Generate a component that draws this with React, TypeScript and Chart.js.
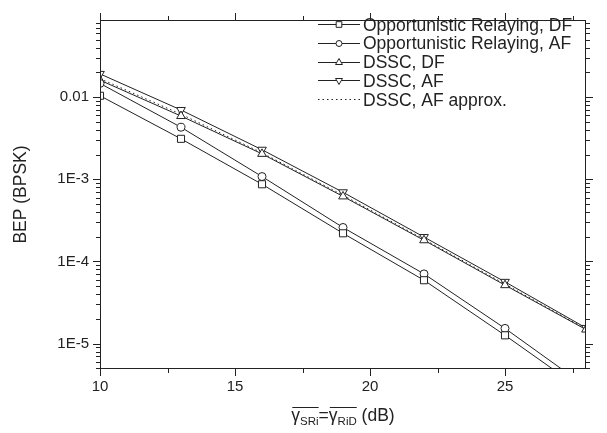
import React, { useEffect, useRef } from 'react';
import { Chart, registerables } from 'chart.js';
import { drawPoint } from 'chart.js/helpers';

Chart.register(...registerables);

// ---- data ----
const snrDb = [10, 13, 16, 19, 22, 25, 28];
const orDF = [0.0104, 0.00311, 0.00087, 2.2e-4, 5.9e-5, 1.26e-5, 2.53e-6];
const orAF = [0.0147, 0.0043, 0.00108, 2.59e-4, 7.05e-5, 1.53e-5, 3.0e-6];
const dsscDF = [0.0161, 0.00589, 0.00204, 6.19e-4, 1.81e-4, 5.14e-5, 1.48e-5];
const dsscAF = [0.0192, 0.00698, 0.00229, 6.95e-4, 1.98e-4, 5.64e-5, 1.55e-5];
const dsscAFApprox = [0.0168, 0.0062, 0.0021, 6.4e-4, 1.86e-4, 5.3e-5, 1.5e-5];
const seriesLabels = [
  'Opportunistic Relaying, DF',
  'Opportunistic Relaying, AF',
  'DSSC, DF',
  'DSSC, AF',
  'DSSC, AF approx.',
];
const xTickValues = [10, 15, 20, 25];
const xMinorTickValues = [12.5, 17.5, 22.5, 27.5];
const yTickValues = [1e-2, 1e-3, 1e-4, 1e-5];
const yTickLabels = ['0.01', '1E-3', '1E-4', '1E-5'];
const yTitle = 'BEP (BPSK)';

const INK = '#222';
const FONT = "'Liberation Sans', Arial, Helvetica, sans-serif";
const X_MIN = 10, X_MAX = 28, Y_MIN = 4.9e-6, Y_MAX = 0.087;

function yMinorValues(): number[] {
  const out: number[] = [];
  for (let e = -7; e <= -1; e++) {
    for (let k = 2; k <= 9; k++) {
      const v = k * Math.pow(10, e);
      if (v >= Y_MIN && v <= Y_MAX) out.push(v);
    }
  }
  return out;
}

const frame = {
  id: 'frame',
  afterDatasetsDraw(chart: any) {
    const ctx = chart.ctx as CanvasRenderingContext2D;
    const { left, right, top, bottom } = chart.chartArea;
    const xs = chart.scales.x, ys = chart.scales.y;
    ctx.save();
    ctx.strokeStyle = INK;
    ctx.lineWidth = 1;
    ctx.setLineDash([]);
    ctx.strokeRect(left + 0.5, top + 0.5, right - left - 1, bottom - top - 1);
    const line = (x1: number, y1: number, x2: number, y2: number) => {
      ctx.beginPath(); ctx.moveTo(x1, y1); ctx.lineTo(x2, y2); ctx.stroke();
    };
    const xt = (v: number, len: number) => {
      const px = Math.min(Math.round(xs.getPixelForValue(v)), right - 1) + 0.5;
      line(px, bottom, px, bottom + len);
      line(px, top, px, top - len);
    };
    const yt = (v: number, len: number) => {
      const py = Math.round(ys.getPixelForValue(v)) + 0.5;
      line(left, py, left - len, py);
      line(right, py, right + len, py);
    };
    xTickValues.forEach(v => xt(v, 7));
    xMinorTickValues.forEach(v => xt(v, 4));
    yTickValues.forEach(v => yt(v, 7));
    yMinorValues().forEach(v => yt(v, 4));

    // legend
    const rowY0 = 24, rowH = 18.75, lx0 = 318, lx1 = 360, tx = 363;
    ctx.font = `17.5px ${FONT}`;
    ctx.textBaseline = 'alphabetic';
    ctx.textAlign = 'left';
    chart.data.datasets.forEach((ds: any, i: number) => {
      const y = rowY0 + i * rowH;
      ctx.strokeStyle = INK;
      ctx.lineWidth = 1;
      ctx.setLineDash(ds.borderDash || []);
      line(lx0, Math.round(y) + 0.5, lx1, Math.round(y) + 0.5);
      ctx.setLineDash([]);
      if (ds.pointRadius > 0) {
        ctx.fillStyle = '#fff';
        ctx.strokeStyle = INK;
        drawPoint(ctx, {
          pointStyle: ds.pointStyle,
          rotation: ds.pointRotation || 0,
          radius: ds.pointStyle === 'circle' ? 3 : 4,
          borderWidth: 1,
        } as any, (lx0 + lx1) / 2, Math.round(y) + 0.5);
      }
      ctx.fillStyle = INK;
      ctx.fillText(ds.label, tx, y + 6.5);
    });

    // x axis title: γSRi = γRiD (dB), overlines and subscripts
    const main = `17.5px ${FONT}`, sub = `11.5px ${FONT}`;
    const base = 421, subBase = base + 4;
    const parts: { t: string; f: string; b: number; ol?: number }[] = [
      { t: 'γ', f: main, b: base, ol: 1 },
      { t: 'SRi', f: sub, b: subBase, ol: 1 },
      { t: '=', f: main, b: base },
      { t: 'γ', f: main, b: base, ol: 2 },
      { t: 'RiD', f: sub, b: subBase, ol: 2 },
      { t: ' (dB)', f: main, b: base },
    ];
    let total = 0;
    const widths = parts.map(p => { ctx.font = p.f; const w = ctx.measureText(p.t).width; total += w; return w; });
    let x = (left + right) / 2 - total / 2;
    const olStart: Record<number, number> = {}, olEnd: Record<number, number> = {};
    ctx.fillStyle = INK;
    parts.forEach((p, i) => {
      ctx.font = p.f;
      ctx.fillText(p.t, x, p.b);
      if (p.ol) {
        if (olStart[p.ol] === undefined) olStart[p.ol] = x;
        olEnd[p.ol] = x + widths[i];
      }
      x += widths[i];
    });
    ctx.strokeStyle = INK;
    ctx.lineWidth = 1;
    [1, 2].forEach(k => line(olStart[k] + 1, base - 13.5, olEnd[k], base - 13.5));
    ctx.restore();
  },
};

export default function App() {
  const ref = useRef<HTMLCanvasElement | null>(null);
  useEffect(() => {
    if (!ref.current) return;
    const mk = (arr: number[]) => snrDb.map((x, i) => ({ x, y: arr[i] }));
    const base = {
      borderColor: INK,
      borderWidth: 1,
      pointBackgroundColor: '#fff',
      pointBorderColor: INK,
      pointBorderWidth: 1,
      pointRadius: 4,
      clip: 0,
      tension: 0,
      fill: false,
    };
    const chart = new Chart(ref.current, {
      type: 'line',
      data: {
        datasets: [
          { ...base, label: seriesLabels[0], data: mk(orDF), pointStyle: 'rect', pointRadius: 5 },
          { ...base, label: seriesLabels[1], data: mk(orAF), pointStyle: 'circle', pointRadius: 4 },
          { ...base, label: seriesLabels[2], data: mk(dsscDF), pointStyle: 'triangle', pointRadius: 5 },
          { ...base, label: seriesLabels[3], data: mk(dsscAF), pointStyle: 'triangle', pointRotation: 180, pointRadius: 5 },
          { ...base, label: seriesLabels[4], data: mk(dsscAFApprox), pointRadius: 0, borderDash: [1.5, 3] },
        ] as any,
      },
      options: {
        animation: false,
        responsive: false,
        devicePixelRatio: 1,
        layout: { padding: { top: 5, right: 21, left: 0, bottom: 0 } },
        plugins: { legend: { display: false }, tooltip: { enabled: false } },
        scales: {
          x: {
            type: 'linear',
            min: X_MIN,
            max: X_MAX,
            border: { display: false },
            grid: { display: false, drawTicks: false },
            afterBuildTicks: (s: any) => { s.ticks = xTickValues.map(v => ({ value: v })); },
            afterFit: (s: any) => { s.height = 64; },
            ticks: {
              autoSkip: false,
              maxRotation: 0,
              padding: 9,
              color: INK,
              font: { family: FONT, size: 15 },
              callback: (v: any) => String(v),
            },
          },
          y: {
            type: 'logarithmic',
            min: Y_MIN,
            max: Y_MAX,
            border: { display: false },
            grid: { display: false, drawTicks: false },
            afterBuildTicks: (s: any) => { s.ticks = yTickValues.map(v => ({ value: v })); },
            afterFit: (s: any) => { s.width = 100; },
            ticks: {
              autoSkip: false,
              padding: 11,
              color: INK,
              font: { family: FONT, size: 15 },
              callback: (v: any) => {
                const i = yTickValues.findIndex(t => Math.abs(Math.log10(t) - Math.log10(Number(v))) < 1e-6);
                return i >= 0 ? yTickLabels[i] : '';
              },
            },
            title: {
              display: true,
              text: yTitle,
              color: INK,
              font: { family: FONT, size: 17.5 },
              padding: { top: 11, bottom: 0 },
            },
          },
        },
      },
      plugins: [frame],
    });
    return () => chart.destroy();
  }, []);
  return (
    <canvas
      ref={ref}
      width={607}
      height={433}
      style={{ position: 'absolute', left: 0, top: 0, width: 607, height: 433 }}
    />
  );
}
